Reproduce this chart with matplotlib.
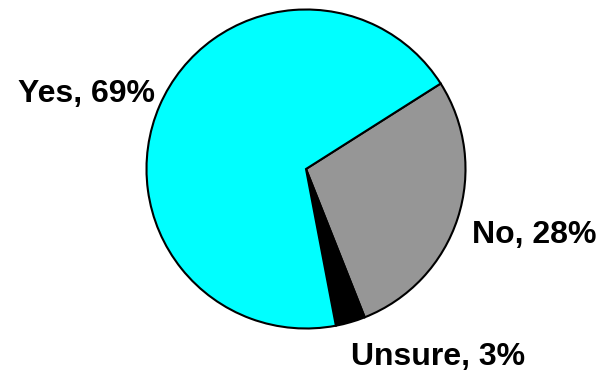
import matplotlib.pyplot as plt

labels = ["No", "Unsure", "Yes"]
shares = [28, 3, 69]
colors = ["#969696", "#000000", "#00FFFF"]

W, H = 604, 371
cx, cy, r = 306, 169, 159.5

fig = plt.figure(figsize=(W / 100, H / 100), dpi=100)
ax = fig.add_axes([0, 0, 1, 1])

ax.pie(shares, colors=colors, radius=r, startangle=32.4, counterclock=False,
       wedgeprops=dict(edgecolor="black", linewidth=1.5), frame=True)
ax.set_xlim(-cx, W - cx)
ax.set_ylim(cy - H, cy)
ax.set_aspect("auto")
ax.axis("off")

# label anchors in pixel space (left edge, baseline)
spots = {"Yes": (18, 102), "No": (472, 243), "Unsure": (351, 365)}
for lab, val in zip(labels, shares):
    px, py = spots[lab]
    ax.text(px - cx, cy - py, f"{lab}, {val}%", ha="left", va="baseline",
            fontsize=23, fontweight="bold", family="Liberation Sans")

fig.savefig("out.png", dpi=100)
